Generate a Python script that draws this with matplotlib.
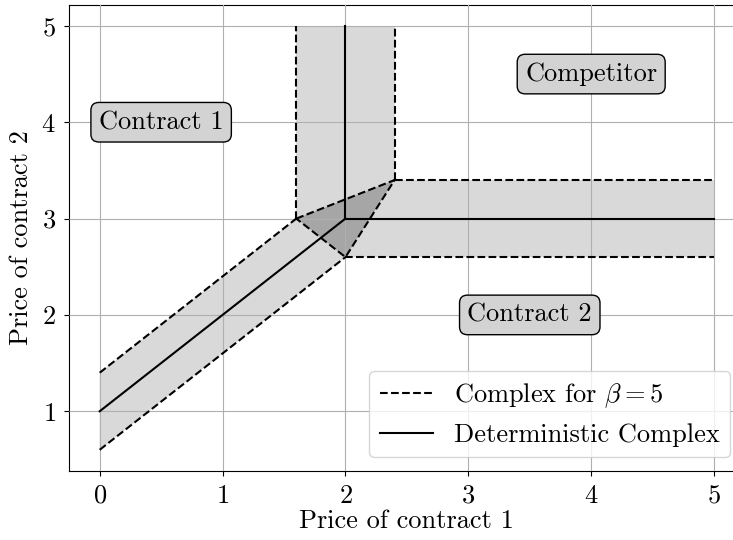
import matplotlib
matplotlib.use("Agg")
import matplotlib.pyplot as plt
from matplotlib.patches import Polygon

plt.rcParams.update({
    "font.family": "serif",
    "font.serif": ["cmr10", "DejaVu Serif"],
    "mathtext.fontset": "cm",
    "axes.formatter.use_mathtext": True,
    "font.size": 19,
})

# deterministic complex: three rays meeting at the centre point
det_centre = (2.0, 3.0)
det_diag_start = (0.0, 1.0)
det_up_end = (2.0, 5.0)
det_right_end = (5.0, 3.0)

# stochastic complex (beta = 5): triangle in the middle plus three bands
tri_x = [1.6, 2.4, 2.0]
tri_y = [3.0, 3.4, 2.6]
diag_x = [0.0, 1.6, 2.0, 0.0]
diag_y = [1.4, 3.0, 2.6, 0.6]
vert_x = [1.6, 1.6, 2.4, 2.4]
vert_y = [3.0, 5.0, 5.0, 3.4]
horiz_x = [2.4, 5.0, 5.0, 2.0]
horiz_y = [3.4, 3.4, 2.6, 2.6]

region_labels = ["Contract 1", "Competitor", "Contract 2"]
region_x = [0.5, 4.0, 3.5]
region_y = [4.0, 4.5, 2.0]

fig = plt.figure(figsize=(7.33, 5.4), dpi=100)
ax = fig.add_axes([0.0941, 0.1278, 0.922, 0.8635])

light = "#d9d9d9"
dark = "#a6a6a6"
for xs, ys in [(diag_x, diag_y), (vert_x, vert_y), (horiz_x, horiz_y)]:
    ax.add_patch(Polygon(list(zip(xs, ys)), closed=True, facecolor=light, edgecolor="none", zorder=1))
ax.add_patch(Polygon(list(zip(tri_x, tri_y)), closed=True, facecolor=dark, edgecolor="none", zorder=1))

dash = dict(color="black", ls="--", lw=1.5, zorder=3)
# outer dashed edges of the bands
ax.plot([diag_x[0], diag_x[1]], [diag_y[0], diag_y[1]], **dash)
ax.plot([diag_x[3], diag_x[2]], [diag_y[3], diag_y[2]], **dash)
ax.plot([vert_x[0], vert_x[1]], [vert_y[0], vert_y[1]], **dash)
ax.plot([vert_x[3], vert_x[2]], [vert_y[3], vert_y[2]], **dash)
ax.plot([horiz_x[0], horiz_x[1]], [horiz_y[0], horiz_y[1]], **dash)
ax.plot([horiz_x[3], horiz_x[2]], [horiz_y[3], horiz_y[2]], **dash)
# triangle edges
ax.plot(tri_x + [tri_x[0]], tri_y + [tri_y[0]], label=r"Complex for $\beta=5$", **dash)

solid = dict(color="black", ls="-", lw=1.5, zorder=3)
ax.plot([det_diag_start[0], det_centre[0]], [det_diag_start[1], det_centre[1]],
        label="Deterministic Complex", **solid)
ax.plot([det_centre[0], det_up_end[0]], [det_centre[1], det_up_end[1]], **solid)
ax.plot([det_centre[0], det_right_end[0]], [det_centre[1], det_right_end[1]], **solid)

for lab, x, y in zip(region_labels, region_x, region_y):
    ax.text(x, y, lab, ha="center", va="center", zorder=4,
            bbox=dict(boxstyle="round", facecolor="#d3d3d3", edgecolor="black"))

ax.set_xlim(-0.25, 5.25)
ax.set_ylim(0.38, 5.22)
ax.set_xticks([0, 1, 2, 3, 4, 5])
ax.set_yticks([1, 2, 3, 4, 5])
ax.tick_params(pad=6)
ax.set_axisbelow(False)
ax.grid(True, color="#b0b0b0", lw=0.8, zorder=2)
ax.set_xlabel("Price of contract 1", labelpad=1)
ax.set_ylabel("Price of contract 2", labelpad=6)
ax.legend(loc="lower right", bbox_to_anchor=(0.99, 0.012), borderaxespad=0.3)

fig.savefig("out.png", dpi=100)
